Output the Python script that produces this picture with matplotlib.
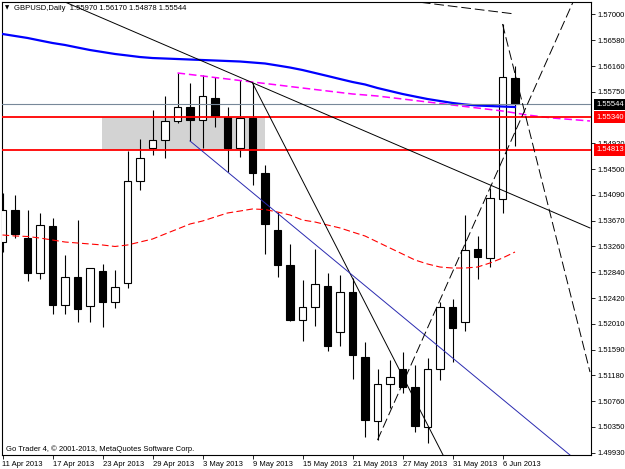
import matplotlib
matplotlib.use('Agg')
import matplotlib.pyplot as plt
from matplotlib.patches import Rectangle
import numpy as np

plt.rcParams['font.family'] = ['Liberation Sans', 'DejaVu Sans']
plt.rcParams['font.size'] = 5.5

# daily GBPUSD bars, 11 Apr 2013 .. 7 Jun 2013
opens = [1.53328, 1.53843, 1.53392, 1.52829, 1.53586, 1.52313, 1.52764, 1.52297, 1.52861, 1.52362,
         1.52668, 1.54310, 1.54842, 1.54971, 1.55277, 1.55502, 1.55293, 1.55647, 1.55341, 1.54842,
         1.55325, 1.54439, 1.53521, 1.52958, 1.52072, 1.52281, 1.52619, 1.51879, 1.52523, 1.51476,
         1.50445, 1.51041, 1.51283, 1.50993, 1.50349, 1.51283, 1.52281, 1.52040, 1.53215, 1.53070,
         1.54021, 1.55970]
highs = [1.54117, 1.54085, 1.53843, 1.53795, 1.53715, 1.53119, 1.53682, 1.52909, 1.52974, 1.52877,
         1.54794, 1.54987, 1.55454, 1.55679, 1.56050, 1.55889, 1.56018, 1.55985, 1.55502, 1.55937,
         1.55889, 1.54568, 1.53811, 1.53296, 1.52716, 1.53215, 1.52829, 1.52797, 1.52748, 1.51718,
         1.51283, 1.51428, 1.51557, 1.51347, 1.51460, 1.52362, 1.52410, 1.53763, 1.53425, 1.54198,
         1.56839, 1.56170]
lows = [1.53167, 1.53392, 1.52700, 1.52732, 1.52168, 1.52168, 1.52040, 1.52040, 1.51959, 1.52265,
        1.52587, 1.54166, 1.54729, 1.54681, 1.55245, 1.54955, 1.54842, 1.55180, 1.54455, 1.54697,
        1.54246, 1.53135, 1.52764, 1.52056, 1.51734, 1.51975, 1.51573, 1.51653, 1.51122, 1.50188,
        1.50139, 1.50655, 1.50896, 1.50268, 1.50091, 1.51106, 1.51395, 1.51895, 1.52732, 1.52925,
        1.53795, 1.54878]
closes = [1.53843, 1.53457, 1.52829, 1.53602, 1.52313, 1.52764, 1.52249, 1.52909, 1.52362, 1.52603,
          1.54310, 1.54681, 1.54971, 1.55277, 1.55502, 1.55293, 1.55679, 1.55357, 1.54842, 1.55325,
          1.54439, 1.53618, 1.52958, 1.52072, 1.52281, 1.52652, 1.51653, 1.52523, 1.51508, 1.50461,
          1.51041, 1.51154, 1.50993, 1.50365, 1.51283, 1.52281, 1.51943, 1.53199, 1.53086, 1.54037,
          1.55985, 1.55544]

# moving averages
ma_blue = [1.56678, 1.56646, 1.56614, 1.56573, 1.56533, 1.56501, 1.56460, 1.56420, 1.56388, 1.56356,
           1.56332, 1.56307, 1.56291, 1.56283, 1.56275, 1.56267, 1.56259, 1.56251, 1.56243, 1.56235,
           1.56219, 1.56203, 1.56171, 1.56138, 1.56098, 1.56050, 1.56002, 1.55953, 1.55905, 1.55865,
           1.55808, 1.55760, 1.55712, 1.55671, 1.55631, 1.55599, 1.55567, 1.55543, 1.55526, 1.55518,
           1.55510, 1.55502]
ma_red = [1.53441, 1.53425, 1.53417, 1.53392, 1.53360, 1.53328, 1.53312, 1.53296, 1.53280, 1.53256,
          1.53280, 1.53328, 1.53376, 1.53457, 1.53537, 1.53618, 1.53666, 1.53731, 1.53795, 1.53827,
          1.53860, 1.53851, 1.53811, 1.53763, 1.53682, 1.53650, 1.53602, 1.53554, 1.53489, 1.53425,
          1.53328, 1.53231, 1.53135, 1.53038, 1.52974, 1.52925, 1.52909, 1.52909, 1.52925, 1.52990,
          1.53070, 1.53167]
# shifted MA, starts at bar 14 and runs 6 bars past the last one
ma_magenta_start = 14
ma_magenta = [1.56050, 1.56026, 1.56002, 1.55977, 1.55953, 1.55929, 1.55905, 1.55881, 1.55857, 1.55832,
              1.55808, 1.55784, 1.55760, 1.55736, 1.55712, 1.55696, 1.55679, 1.55655, 1.55631, 1.55607,
              1.55583, 1.55559, 1.55534, 1.55510, 1.55486, 1.55462, 1.55438, 1.55406, 1.55373, 1.55349,
              1.55325, 1.55309, 1.55293, 1.55277]

# drawn objects (bar index, price)
trend_long = ([5.0, 47.0], [1.57193, 1.53554])
trend_steep = ([20.0, 36.0], [1.55889, 1.49600])
trend_blue = ([15.0, 47.0], [1.54955, 1.49631])
fork_up = ([30.0, 46.0], [1.50139, 1.57354])
fork_down = ([40.0, 47.0], [1.56839, 1.51234])
fork_top = ([30.0, 41.0], [1.57274, 1.57000])

level_hi = 1.55340
level_lo = 1.54813
zone = (8, 21)  # bars covered by the grey box
bid = 1.55544

date_pos = [0, 4, 8, 12, 16, 20, 24, 28, 32, 36, 40]
date_labels = ['11 Apr 2013', '17 Apr 2013', '23 Apr 2013', '29 Apr 2013', '3 May 2013',
               '9 May 2013', '15 May 2013', '21 May 2013', '27 May 2013', '31 May 2013', '6 Jun 2013']
price_ticks = [1.57000, 1.56580, 1.56160, 1.55750, 1.54920, 1.54500, 1.54090, 1.53670, 1.53260,
               1.52840, 1.52420, 1.52010, 1.51590, 1.51180, 1.50760, 1.50350, 1.49930]

W, H = 625, 469
fig = plt.figure(figsize=(W / 100, H / 100), dpi=100)
ax = fig.add_axes([2 / W, 14 / H, 589 / W, 453 / H])

# background zone
ax.add_patch(Rectangle((zone[0] - 0.04, level_lo), zone[1] - zone[0] + 0.04, level_hi - level_lo,
                       facecolor='#d3d3d3', edgecolor='none', zorder=1))

# candles
x = np.arange(len(opens))
o = np.array(opens)
c = np.array(closes)
ax.vlines(x, lows, highs, color='black', lw=0.8, zorder=2)
bottom = np.minimum(o, c)
height = np.maximum(np.abs(c - o), 0.00004)
face = ['white' if cc >= oo else 'black' for oo, cc in zip(o, c)]
ax.bar(x, height, bottom=bottom, width=0.62, color=face, edgecolor='black', linewidth=0.8, zorder=3)

# indicators
ax.plot(x, ma_red, color='red', lw=0.8, ls=(0, (6, 3)), zorder=4)
ax.plot(x, ma_blue, color='#0000ff', lw=1.6, zorder=4)
xm = np.arange(ma_magenta_start, ma_magenta_start + len(ma_magenta))
ax.plot(xm, ma_magenta, color='#ff00ff', lw=1.1, ls=(0, (5, 2.5)), zorder=4)

# objects
ax.axhline(bid, color='#778899', lw=0.8, zorder=5)
ax.axhline(level_hi, color='red', lw=1.3, zorder=5)
ax.axhline(level_lo, color='red', lw=1.3, zorder=5)
ax.plot(*trend_long, color='black', lw=0.7, zorder=5)
ax.plot(*trend_steep, color='black', lw=0.7, zorder=5)
ax.plot(*trend_blue, color='#2a2ab0', lw=0.7, zorder=5)
for ln in (fork_up, fork_down, fork_top):
    ax.plot(*ln, color='black', lw=0.7, ls=(0, (10, 4)), zorder=5)

ax.set_xlim(-0.04, 47.08)
ax.set_ylim(1.498977, 1.571933)

ax.yaxis.tick_right()
ax.set_yticks(price_ticks)
ax.set_yticklabels(['%.5f' % v for v in price_ticks])
ax.tick_params(axis='y', length=3, width=0.6, pad=2, labelsize=5.5)
ax.set_xticks(date_pos)
ax.set_xticklabels(date_labels, ha='left')
ax.tick_params(axis='x', length=3, width=0.6, pad=1.5, labelsize=5.5)
for sp in ax.spines.values():
    sp.set_linewidth(0.8)

# price boxes on the scale
tr = ax.get_yaxis_transform()
for val, bg in [(bid, 'black'), (level_hi, 'red'), (level_lo, 'red')]:
    ax.text(1.0085, val, '%.5f' % val, transform=tr, color='white', fontsize=5.5,
            va='center', ha='left', clip_on=False, zorder=10,
            bbox=dict(boxstyle='square,pad=0.3', fc=bg, ec='none'))

fig.text(7 / W, 1 - 8 / H, '\u25bc', fontsize=4, va='center', ha='center',
         family=['DejaVu Sans'])
fig.text(14 / W, 1 - 8 / H, 'GBPUSD,Daily  %.5f %.5f %.5f %.5f'
         % (opens[-1], highs[-1], lows[-1], closes[-1]), fontsize=5.5, va='center')
fig.text(6 / W, 1 - 449 / H, 'Go Trader 4, \u00a9 2001-2013, MetaQuotes Software Corp.',
         fontsize=5.5, va='center')

fig.savefig('out.png', dpi=100)
